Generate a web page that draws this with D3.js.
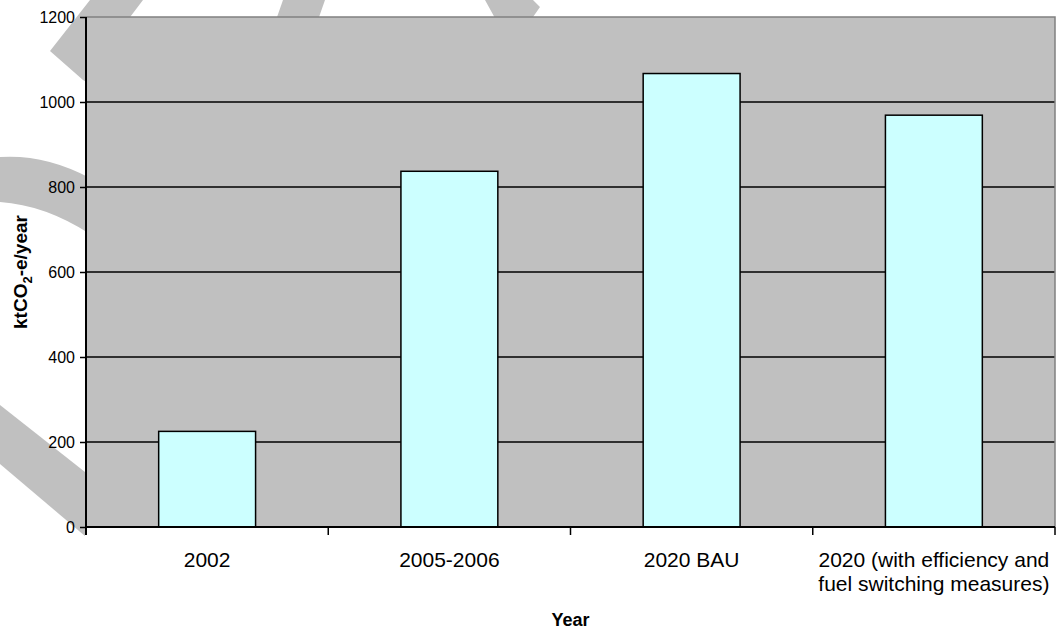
<!DOCTYPE html>
<html>
<head>
<meta charset="utf-8">
<script src="https://cdn.jsdelivr.net/npm/d3@7"></script>
<style>
  html, body { margin: 0; padding: 0; background: #ffffff; }
  svg { display: block; font-family: "Liberation Sans", Arial, sans-serif; }
</style>
</head>
<body>
<svg id="chart" width="1062" height="632"></svg>
<script>
// Emissions by scenario (ktCO2-e per year)
const categories = ["2002", "2005-2006", "2020 BAU", "2020 (with efficiency and\nfuel switching measures)"];
const values = [225, 837, 1067, 969];
const yTicks = [0, 200, 400, 600, 800, 1000, 1200];
const xTitle = "Year";

const W = 1062, H = 632;
const plot = { left: 86, top: 17, right: 1055, bottom: 527 };

const svg = d3.select("#chart");

// Faint backdrop watermark strokes, visible only around the plot frame
const backdrop = [
  "M90,0 L143,0 L90,70 L90,84 L83,80 L50,51 Z",
  "M283,0 L325,0 L318,20 L276,20 Z",
  "M485,0 L533,0 L540,7 L533,17 L533,20 L496,20 Z",
  "M0,157 Q45,154 90,178 L90,234 Q45,205 0,202 Z",
  "M0,405 L85,472 L85,536 L0,464 Z"
];
svg.append("g").selectAll("path").data(backdrop).join("path")
  .attr("d", d => d).attr("fill", "#c0c0c0");

const x = d3.scaleBand()
  .domain(categories)
  .range([plot.left, plot.right])
  .paddingInner(0.6)
  .paddingOuter(0.3);

const y = d3.scaleLinear().domain([0, 1200]).range([plot.bottom, plot.top]);

// plot area
svg.append("rect")
  .attr("x", plot.left).attr("y", plot.top)
  .attr("width", plot.right - plot.left).attr("height", plot.bottom - plot.top)
  .attr("fill", "#c0c0c0");

// horizontal gridlines
svg.append("g").selectAll("line")
  .data(yTicks.filter(t => t > 0 && t < 1200)).join("line")
  .attr("x1", plot.left).attr("x2", plot.right)
  .attr("y1", d => y(d)).attr("y2", d => y(d))
  .attr("stroke", "#000").attr("stroke-width", 1.5);

// frame top & right
svg.append("path")
  .attr("d", `M${plot.left},${y(1200)} H${plot.right} V${plot.bottom}`)
  .attr("fill", "none").attr("stroke", "#808080").attr("stroke-width", 1.5);

// bars
svg.append("g").selectAll("rect")
  .data(values).join("rect")
  .attr("x", (d, i) => x(categories[i]))
  .attr("y", d => y(d))
  .attr("width", x.bandwidth())
  .attr("height", d => y(0) - y(d))
  .attr("fill", "#ccffff")
  .attr("stroke", "#000").attr("stroke-width", 1.5);

// y axis
const yAxis = d3.axisLeft(y).tickValues(yTicks).tickSize(6).tickPadding(5).tickFormat(d3.format("d"));
const gy = svg.append("g").attr("transform", `translate(${plot.left},0)`).call(yAxis);
gy.select(".domain").attr("stroke", "#000").attr("stroke-width", 2)
  .attr("d", `M0,${y(1200)} V${y(0) + 8}`);
gy.selectAll(".tick line").attr("stroke", "#000").attr("stroke-width", 1.5);
gy.selectAll(".tick text").attr("font-size", 16).attr("fill", "#000")
  .attr("font-family", "Liberation Sans, Arial, sans-serif");

// x axis: ticks between categories
const step = x.step();
const bounds = d3.range(categories.length + 1).map(i => plot.left + i * step);
const gx = svg.append("g");
gx.append("line")
  .attr("x1", plot.left).attr("x2", plot.right)
  .attr("y1", y(0)).attr("y2", y(0))
  .attr("stroke", "#000").attr("stroke-width", 2);
gx.selectAll("line.tk").data(bounds).join("line").attr("class", "tk")
  .attr("x1", d => d).attr("x2", d => d)
  .attr("y1", y(0)).attr("y2", y(0) + 8)
  .attr("stroke", "#000").attr("stroke-width", 1.5);

// category labels (multi-line where needed)
const lab = gx.selectAll("text.cat").data(categories).join("text").attr("class", "cat")
  .attr("x", d => x(d) + x.bandwidth() / 2)
  .attr("y", 567)
  .attr("text-anchor", "middle")
  .attr("font-size", 21)
  .attr("fill", "#000");
lab.selectAll("tspan").data(d => d.split("\n")).join("tspan")
  .attr("x", function () { return d3.select(this.parentNode).attr("x"); })
  .attr("dy", (d, i) => i === 0 ? 0 : 24)
  .text(d => d);

// axis titles
svg.append("text")
  .attr("x", (plot.left + plot.right) / 2).attr("y", 626)
  .attr("text-anchor", "middle").attr("font-weight", "bold").attr("font-size", 18)
  .text(xTitle);

const yt = svg.append("text")
  .attr("transform", `translate(27,${(plot.top + plot.bottom) / 2}) rotate(-90)`)
  .attr("text-anchor", "middle").attr("font-weight", "bold").attr("font-size", 19);
yt.append("tspan").text("ktCO");
yt.append("tspan").attr("font-size", 13).attr("dy", 5).text("2");
yt.append("tspan").attr("dy", -5).text("-e/year");
</script>
</body>
</html>
